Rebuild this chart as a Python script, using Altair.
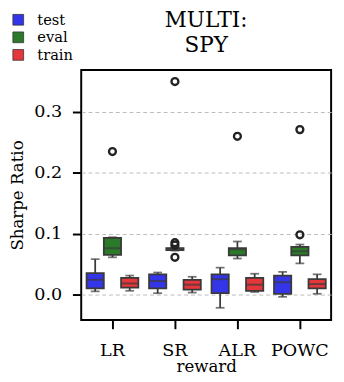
import altair as alt
import pandas as pd

rewards = ["LR", "SR", "ALR", "POWC"]
splits = ["test", "eval", "train"]
colors = ["#3434e8", "#2a7a2a", "#e5363b"]

# per (reward, split): lower whisker, q1, median, q3, upper whisker
box_reward = ["LR", "LR", "LR", "SR", "SR", "SR", "ALR", "ALR", "ALR", "POWC", "POWC", "POWC"]
box_split = ["test", "eval", "train"] * 4
lower = [0.005, 0.061, 0.006, 0.002, 0.072, 0.003, -0.022, 0.059, 0.004, -0.004, 0.051, 0.001]
q1 = [0.010, 0.065, 0.011, 0.010, 0.073, 0.008, 0.002, 0.064, 0.006, 0.001, 0.064, 0.010]
median = [0.024, 0.076, 0.018, 0.022, 0.075, 0.016, 0.025, 0.074, 0.016, 0.020, 0.071, 0.017]
q3 = [0.035, 0.093, 0.027, 0.033, 0.076, 0.024, 0.033, 0.076, 0.027, 0.031, 0.078, 0.025]
upper = [0.058, 0.094, 0.031, 0.036, 0.077, 0.029, 0.044, 0.087, 0.034, 0.037, 0.082, 0.033]

out_reward = ["LR", "SR", "SR", "SR", "SR", "ALR", "POWC", "POWC"]
out_split = ["eval", "eval", "eval", "eval", "eval", "eval", "eval", "eval"]
out_value = [0.235, 0.350, 0.085, 0.081, 0.061, 0.260, 0.271, 0.098]

boxes = pd.DataFrame({"reward": box_reward, "split": box_split, "lower": lower,
                      "q1": q1, "median": median, "q3": q3, "upper": upper})
outs = pd.DataFrame({"reward": out_reward, "split": out_split, "value": out_value})

FONT = "DejaVu Serif"
EDGE = "#3a3a3a"
FS = 18
TFS = 17

x = alt.X("reward:N", sort=rewards, title="reward",
          scale=alt.Scale(paddingInner=0, paddingOuter=0),
          axis=alt.Axis(labelAngle=0, grid=False, tickSize=9, tickWidth=2,
                        tickColor="black", domain=False, labelFontSize=FS,
                        titleFontSize=TFS, labelFont=FONT, titleFont=FONT,
                        titleFontWeight="normal",
                        labelColor="black", titleColor="black", titlePadding=0,
                        labelPadding=13))
xo = alt.XOffset("split:N", sort=splits,
                 scale=alt.Scale(paddingInner=0, paddingOuter=0.31))
color = alt.Color("split:N", sort=splits,
                  scale=alt.Scale(domain=splits, range=colors),
                  legend=alt.Legend(title=None, orient="none", legendX=-72, legendY=-59,
                                    symbolType="square", symbolSize=121,
                                    symbolStrokeColor="#333333", symbolStrokeWidth=0.8,
                                    symbolOpacity=1,
                                    labelFont=FONT, labelFontSize=15, labelColor="black",
                                    rowPadding=2, labelOffset=12))

yscale = alt.Scale(domain=[-0.042, 0.369], nice=False, zero=False)
yaxis = alt.Axis(values=[0.0, 0.1, 0.2, 0.3], format=".1f", grid=True,
                 gridDash=[4, 3], gridColor="#bbbbbb", gridWidth=1,
                 tickSize=9, tickWidth=2, tickColor="black", domain=False,
                 labelFontSize=FS, titleFontSize=TFS, labelFont=FONT, titleFont=FONT,
                 titleFontWeight="normal",
                 labelColor="black", titleColor="black", labelPadding=11, titlePadding=7)

base = alt.Chart(boxes)

whisk = base.mark_rule(color=EDGE, strokeWidth=1.8).encode(
    x=x, xOffset=xo,
    y=alt.Y("lower:Q", scale=yscale, axis=yaxis, title="Sharpe Ratio"),
    y2="upper:Q")

caps_lo = base.mark_tick(color=EDGE, size=9, thickness=1.8).encode(
    x=x, xOffset=xo, y=alt.Y("lower:Q", scale=yscale))
caps_hi = base.mark_tick(color=EDGE, size=9, thickness=1.8).encode(
    x=x, xOffset=xo, y=alt.Y("upper:Q", scale=yscale))

box = base.mark_bar(stroke=EDGE, strokeWidth=1.8, opacity=1).encode(
    x=x, xOffset=xo, y=alt.Y("q1:Q", scale=yscale), y2="q3:Q", color=color)

med = base.mark_tick(color=EDGE, size=17, thickness=2).encode(
    x=x, xOffset=xo, y=alt.Y("median:Q", scale=yscale))

pts = alt.Chart(outs).mark_point(shape="circle", filled=False, color="#222222",
                                 strokeWidth=2.4, size=50, opacity=1).encode(
    x=x, xOffset=xo, y=alt.Y("value:Q", scale=yscale))

chart = alt.layer(whisk, box, caps_lo, caps_hi, med, pts).properties(
    width=256, height=256,
    background="white",
    title=alt.TitleParams(["MULTI:", "SPY"], font=FONT, fontSize=22, fontWeight="normal",
                          anchor="middle", color="black", offset=0, dy=46, lineHeight=26),
    autosize=alt.AutoSizeParams(type="none"),
    padding={"left": 75, "top": 59, "right": 5, "bottom": 58},
).configure_view(stroke="black", strokeWidth=2)

chart.save("out.html", embed_options={"renderer": "svg", "actions": False})
